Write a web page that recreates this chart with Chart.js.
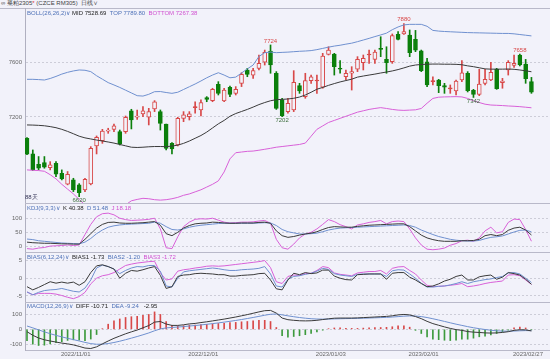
<!DOCTYPE html>
<html><head><meta charset="utf-8">
<script src="https://cdn.jsdelivr.net/npm/chart.js@4"></script>
<style>
html,body{margin:0;padding:0;}
body{background:#f2f2fa;width:550px;height:359px;overflow:hidden;position:relative;font-family:"Liberation Sans",Arial,sans-serif;}
canvas{position:absolute;left:0;}
.t{position:absolute;font-size:6px;line-height:7px;white-space:nowrap;color:#222;}
.ln{position:absolute;height:1px;background:#b9b9c9;}
.b{color:#4f72b8}.m{color:#d050d0}.k{color:#222}.r{color:#d33}
</style></head><body>
<div class="t" style="left:1px;top:0px;color:#444">∞ 菜粕2305<span class="r">*</span> (CZCE RM305) &nbsp;日线∨</div>
<div class="ln" style="left:0;top:8px;width:550px"></div>
<canvas id="cMain" width="550" height="195" style="top:8px"></canvas>
<canvas id="cKdj" width="550" height="49" style="top:203px"></canvas>
<canvas id="cBias" width="550" height="50" style="top:252px"></canvas>
<canvas id="cMacd" width="550" height="57" style="top:302px"></canvas>
<div class="ln" style="left:25px;top:203px;width:525px"></div>
<div class="ln" style="left:25px;top:252px;width:525px"></div>
<div class="ln" style="left:25px;top:302px;width:525px"></div>
<div class="t" style="left:27px;top:10px"><span class="b">BOLL(26,26,2)∨</span> MID 7528.69 &nbsp;<span class="b">TOP 7789.80</span> &nbsp;<span class="m">BOTTOM 7267.38</span></div>
<div class="t" style="left:25px;top:194px;color:#335">88天</div>
<div class="t" style="left:27px;top:205px"><span class="b">KDJ(9,3,3)∨</span> &nbsp;K 40.38 &nbsp;<span class="b">D 51.48</span> &nbsp;<span class="m">J 18.18</span></div>
<div class="t" style="left:27px;top:254px"><span class="b">BIAS(6,12,24)∨</span> &nbsp;BIAS1 -1.73 &nbsp;<span class="b">BIAS2 -1.20</span> &nbsp;<span class="m">BIAS3 -1.72</span></div>
<div class="t" style="left:27px;top:303px"><span class="b">MACD(12,26,9)∨</span> &nbsp;DIFF -10.71 &nbsp;<span class="b">DEA -9.24</span> &nbsp;&nbsp;-2.95</div>
<script>
// ---- data ----
const OPEN = [7045,6931,6856,6868,6832,6863,6790,6711,6742,6706, 6669,6713,6989,7028,7096,7110,7093,7093,7244,7198, 7222,7198,7258,7239,7149,7008,6996,7190,7202,7268, 7251,7341,7319,7438,7316,7416,7372,7445,7542,7505, 7554,7598,7680,7518,7324,7239,7251,7428,7348,7464, 7462,7416,7656,7658,7554,7493,7518,7547,7595,7651, 7619,7700,7619,7602,7801,7804,7796,7765,7682,7602, 7457,7469,7428,7404,7389,7469,7518,7394,7365,7445, 7469,7547,7450,7542,7576,7651,7585,7457];
const HIGH = [7050,6960,6912,6912,6875,6875,6815,6803,6754,6715, 6754,6984,7062,7110,7118,7149,7105,7207,7256,7251, 7275,7263,7319,7251,7149,7013,7198,7239,7239,7311, 7324,7348,7409,7457,7409,7425,7421,7522,7554,7554, 7651,7687,7724,7530,7336,7336,7537,7445,7518,7505, 7505,7663,7711,7663,7610,7542,7566,7639,7651,7687, 7687,7784,7711,7804,7821,7880,7833,7830,7687,7627, 7493,7474,7445,7433,7469,7610,7530,7401,7547,7547, 7598,7554,7481,7610,7651,7658,7619,7488];
const LOW = [6925,6810,6815,6827,6815,6766,6742,6706,6657,6620, 6657,6706,6931,7008,7081,7093,6996,7081,7113,7183, 7202,7142,7239,7105,6960,6931,6989,7166,7178,7227, 7207,7311,7311,7360,7311,7348,7360,7421,7493,7481, 7542,7578,7518,7255,7202,7227,7239,7372,7336,7445, 7372,7409,7651,7505,7518,7469,7396,7530,7542,7590, 7590,7639,7518,7590,7760,7800,7639,7675,7530,7421, 7433,7377,7372,7372,7360,7457,7382,7342,7355,7433, 7464,7401,7409,7505,7561,7571,7445,7372];
const CLOSE = [6929,6815,6827,6834,6851,6783,6749,6783,6669,6650, 6747,6972,7052,7098,7105,7135,7004,7198,7178,7207, 7244,7239,7311,7154,6972,6967,7190,7215,7222,7270, 7304,7328,7401,7372,7396,7365,7401,7510,7510,7537, 7590,7670,7578,7263,7210,7299,7452,7389,7464,7493, 7464,7644,7687,7566,7547,7518,7530,7619,7627,7658, 7673,7692,7595,7792,7765,7821,7668,7687,7537,7433, 7462,7428,7416,7409,7462,7522,7391,7365,7440,7474, 7525,7406,7462,7598,7590,7578,7479,7380];
const BOLL_TOP = [7474,7474,7472,7469,7480,7495,7512,7525,7535,7542, 7540,7530,7500,7475,7450,7433,7415,7395,7375,7355, 7352,7365,7384,7385,7378,7372,7380,7400,7420,7440, 7462,7485,7505,7522,7505,7485,7490,7520,7550,7578, 7640,7668,7672,7668,7670,7672,7675,7678,7680,7683, 7690,7699,7708,7716,7722,7730,7737,7748,7760,7772, 7785,7797,7810,7835,7855,7870,7874,7874,7874,7860, 7830,7825,7822,7820,7818,7816,7814,7813,7812,7811, 7810,7809,7808,7808,7805,7800,7795,7790];
const BOLL_MID = [7142,7141,7139,7136,7130,7122,7110,7095,7078,7060, 7048,7040,7032,7025,7018,7010,7000,6990,6980,6978, 6980,6983,6985,6985,6984,6988,6995,7008,7025,7045, 7065,7090,7120,7150,7175,7205,7225,7240,7255,7272, 7290,7305,7318,7326,7328,7331,7336,7345,7360,7380, 7402,7415,7430,7443,7455,7465,7475,7490,7498,7505, 7512,7520,7527,7535,7545,7557,7570,7578,7582,7584, 7585,7585,7584,7584,7583,7580,7572,7566,7558,7550, 7548,7548,7548,7549,7547,7542,7536,7529];
const BOLL_BOT = [6815,6812,6810,6805,6780,6750,6710,6675,6640,6600, 6560,6545,6535,6530,6530,6535,6545,6560,6590,6600, 6608,6605,6598,6595,6598,6605,6615,6630,6640,6655, 6670,6690,6710,6735,6800,6895,6940,6945,6950,6952, 6958,6965,6972,6980,6985,6990,6995,7000,7010,7060, 7110,7135,7160,7175,7190,7205,7220,7235,7245,7255, 7262,7268,7262,7255,7250,7248,7250,7252,7262,7300, 7335,7344,7346,7347,7348,7346,7335,7318,7305,7293, 7287,7285,7283,7280,7278,7275,7271,7267];
const KDJ_K = [15,13,12,11,11,10,9,9,8,8, 25,45,65,78,85,86,83,82,82,83, 84,86,88,75,45,38,50,65,74,80, 82,83,86,85,83,82,82,83,83,83, 85,86,82,55,38,32,35,40,44,47, 52,60,67,70,69,68,68,71,73,75, 76,77,78,79,80,80,70,55,40,30, 24,20,18,18,18,20,20,21,25,38, 42,38,42,57,65,68,58,40.38];
const KDJ_D = [26,24,20,18,16,14,12,11,10,9, 15,28,45,58,68,73,76,78,79,80, 81,82,86,82,70,60,58,62,68,72, 75,77,79,81,82,82,82,82,82,82, 83,84,83,74,60,52,48,44,44,45, 47,52,58,62,65,66,67,68,69,70, 71,72,73,74,75,76,74,68,58,50, 42,35,30,25,22,20,19,19,21,27, 32,34,37,44,51,57,58,51.48];
const KDJ_J = [-8,-10,-6,-4,1,2,3,5,3,5, 42,78,105,116,118,112,100,95,92,93, 94,96,100,62,-5,-8,34,70,86,96, 98,97,100,93,86,83,84,86,86,87, 90,92,82,25,-5,-10,8,30,44,50, 62,78,95,88,77,70,62,76,80,85, 88,92,80,88,90,88,62,30,5,-10, -12,-10,-6,4,10,20,22,18,30,55, 68,48,52,85,97,95,60,18.18];
const BIAS1 = [-2.4,-3.3,-2.6,-1.8,-1.0,-1.4,-1.1,-1.4,-1.1,-2.0, -1.0,1.6,3.5,3.8,3.3,2.6,0.0,1.4,2.2,2.0, 2.4,2.9,3.3,0.8,-2.9,-2.4,0.5,0.9,1.0,1.3, 1.4,1.3,1.2,1.0,1.0,0.6,0.6,0.8,0.9,1.0, 1.3,1.4,-0.5,-3.0,-3.3,-0.5,1.4,1.0,1.6,1.3, 1.5,2.3,2.3,0.6,0.0,-0.4,-0.5,1.0,1.1,1.2, 1.2,1.2,-0.3,1.4,1.6,1.6,0.3,-0.5,-1.5,-2.4, -2.2,-1.6,-0.8,-0.3,0.5,0.9,-0.5,-0.5,0.4,0.7, 0.9,-0.3,0.3,1.6,1.3,0.9,-0.3,-1.73];
const BIAS2 = [-3.9,-4.7,-4.0,-3.5,-3.3,-3.2,-2.9,-3.3,-3.7,-3.9, -2.8,-0.5,2.9,3.7,3.3,2.6,1.3,2.2,2.9,3.3, 3.2,3.6,3.6,2.0,-2.2,-2.5,0.0,1.8,2.1,2.3, 2.5,2.7,2.9,2.7,2.4,2.2,2.2,2.4,2.5,2.6, 2.8,3.3,1.2,-2.2,-2.5,-0.3,0.5,0.7,1.1,1.4, 2.0,2.8,2.5,1.3,0.9,0.7,0.5,1.1,1.2,1.2, 1.2,1.2,0.5,2.1,2.4,2.3,1.2,0.0,-1.4,-2.5, -2.5,-2.3,-2.2,-1.9,-1.5,-1.0,-1.5,-1.0,-0.7,-0.4, -0.2,0.2,0.5,1.5,1.6,1.2,0.0,-1.20];
const BIAS3 = [-3.9,-4.7,-4.3,-4.3,-4.3,-4.5,-4.9,-5.4,-5.8,-5.2, -4.0,-1.6,0.0,0.7,1.0,1.6,2.6,3.6,4.0,4.3, 4.5,4.7,4.8,1.5,-0.5,-0.2,2.0,2.4,2.6,2.9, 3.1,3.4,3.5,3.4,3.5,3.7,3.9,4.1,4.3,4.5, 4.7,5.0,3.0,-1.0,-1.5,0.5,0.9,0.8,1.3,1.4, 2.2,3.3,3.0,1.5,1.1,0.9,0.7,1.5,1.7,1.9, 1.9,2.2,1.2,2.8,3.2,3.3,2.2,1.2,-0.5,-2.0, -2.4,-2.3,-2.2,-2.0,-1.8,-1.5,-2.4,-2.2,-1.9,-1.5, -1.2,-1.0,-0.8,0.9,1.0,0.7,-0.5,-1.72];
const DIFF = [-16,-40,-58,-70,-78,-85,-92,-97,-104,-114, -125,-128,-117,-97,-78,-60,-45,-30,-17,-5, 10,25,48,52,35,26,26,30,36,39, 45,50,56,62,68,75,82,90,98,107, 116,124,126,108,75,64,60,57,56,57, 60,65,70,74,75,75,75,76,78,80, 82,84,86,90,96,99,96,85,71,53, 38,27,16,6,-2,-7,-15,-19,-21,-24, -25,-24,-21,-16,-7,-3,-4,-10.71];
const DEA = [22,9.6,-3.9,-17.1,-29.3,-40.4,-50.7,-60,-68.8,-77.8, -87.2,-95.4,-99.7,-99.2,-95,-88,-79.4,-69.5,-59,-48.2, -36.6,-24.3,-9.8,2.6,9.1,12.5,15.2,18.2,21.8,25.2, 29.2,33.4,37.9,42.7,47.8,53.2,59,65.2,71.8,78.8, 86.2,93.8,100.2,101.8,96.4,89.9,83.9,78.5,74,70.6, 68.5,67.8,68.2,69.4,70.5,71.4,72.1,72.9,73.9,75.1, 76.5,78,79.6,81.7,84.6,87.5,89.2,88.4,84.9,78.5, 70.4,61.7,52.6,43.3,34.2,26,17.8,10.4,4.1,-1.5, -6.2,-9.8,-12,-12.8,-11.6,-9.9,-8.7,-9.24];
const MACD_HIST = [-76,-99,-108,-106,-97,-89,-83,-74,-70,-72, -76,-65,-35,4,34,56,69,79,84,86, 93,99,116,99,52,27,22,24,28,28, 32,33,36,39,40,44,46,50,52,56, 60,60,52,12,-43,-52,-48,-43,-36,-27, -17,-6,4,9,9,7,6,6,8,10, 11,12,13,17,23,23,14,-7,-28,-51, -65,-69,-73,-75,-72,-66,-66,-59,-50,-45, -38,-28,-18,-6,9,14,9,-2.95];
const TICK_IDX = [9,31,53,69,87];
const TICK_LABELS = ['2022/11/01','2022/12/01','2023/01/03','2023/02/01','2023/02/27'];
const MARK_IDX = [42,44,65,77,85,9];
const MARK_VAL = [7724,7202,7880,7342,7658,6620];
const MARK_HIGH = [true,false,true,false,true,false];
const PRICE_TICKS = [7200,7600];
const KDJ_TICKS = [0,20,50,80,100];
const BIAS_TICKS = [-5,0,5];
const MACD_TICKS = [-100,0,100];

// ---- styles ----
const BG = '#f2f2fa', RED = '#d84848', GREEN = '#0b7f0b', HGREEN = '#3d9a3d';
const C_DARK = '#3a3a3a', C_BLUE = '#6f90cf', C_MAG = '#d860d8';
Chart.defaults.font.family = '"Liberation Sans", Arial, sans-serif';
Chart.defaults.font.size = 6;
Chart.defaults.animation = false;

const xs = (show) => ({
  type: 'linear', min: -0.345, max: 90.2, offset: false, display: show,
  grid: {display: false, drawTicks: false},
  border: {display: show, color: '#b9b9c9'},
  ticks: {autoSkip: false, maxRotation: 0, color: '#666', padding: 1, font: {size: 6},
          callback: (v, i) => TICK_LABELS[i]},
  afterBuildTicks: s => { s.ticks = TICK_IDX.map(i => ({value: i - 0.6})); },
  afterFit: s => { s.height = show ? 9 : 0; s.paddingLeft = 0; s.paddingRight = 0; }
});
const ys = (min, max, tv) => ({
  min, max,
  afterBuildTicks: s => { s.ticks = tv.map(v => ({value: v})); },
  afterFit: s => { s.width = 25; s.paddingTop = 0; s.paddingBottom = 0; },
  ticks: {color: '#666', padding: 3, font: {size: 6}, callback: v => String(v)},
  grid: {color: '#cdcdd8', drawTicks: false},
  border: {display: true, color: '#b0b0c0', dash: [2, 2]}
});
const line = (arr, color, order) => ({
  type: 'line', data: arr.map((v, i) => ({x: i, y: v})), borderColor: color,
  borderWidth: 1, pointRadius: 0, tension: 0, order
});
const baseOpts = (xShow, y) => ({
  responsive: false, maintainAspectRatio: false, animation: false,
  layout: {padding: 0},
  plugins: {legend: {display: false}, tooltip: {enabled: false}},
  scales: {x: xs(xShow), y}
});

// ---- main candles + BOLL ----
const isUp = i => CLOSE[i] >= OPEN[i];
const tiny = i => Math.abs(CLOSE[i] - OPEN[i]) < 8;
const marks = {
  id: 'marks',
  afterDatasetsDraw(chart) {
    const {ctx, scales: {x, y}} = chart;
    ctx.save();
    ctx.font = '6px "Liberation Sans", Arial, sans-serif';
    ctx.textAlign = 'center';
    MARK_IDX.forEach((k, i) => {
      const px = x.getPixelForValue(k), py = y.getPixelForValue(MARK_VAL[i]);
      const hi = MARK_HIGH[i];
      ctx.fillStyle = hi ? RED : '#3f6f3f';
      ctx.textBaseline = hi ? 'bottom' : 'top';
      ctx.fillText(String(MARK_VAL[i]), px, hi ? py - 1 : py + 1);
    });
    ctx.restore();
  }
};
new Chart(document.getElementById('cMain'), {
  type: 'bar',
  data: {datasets: [
    line(BOLL_TOP, C_BLUE, 1), line(BOLL_MID, C_DARK, 1), line(BOLL_BOT, C_MAG, 1),
    {type: 'bar', grouped: false, order: 4, barThickness: 4, minBarLength: 1,
     data: OPEN.map((o, i) => ({x: i, y: [o, CLOSE[i]]})),
     backgroundColor: OPEN.map((o, i) => isUp(i) ? (tiny(i) ? RED : BG) : GREEN),
     borderColor: OPEN.map((o, i) => isUp(i) ? RED : GREEN),
     borderWidth: 1, borderSkipped: false},
    {type: 'bar', grouped: false, order: 5, barThickness: 1,
     data: LOW.map((l, i) => ({x: i, y: [l, HIGH[i]]})),
     backgroundColor: OPEN.map((o, i) => isUp(i) ? RED : GREEN)}
  ]},
  options: baseOpts(false, ys(6574, 7993, PRICE_TICKS)),
  plugins: [marks]
});

// ---- KDJ ----
new Chart(document.getElementById('cKdj'), {
  type: 'line',
  data: {datasets: [line(KDJ_K, C_DARK, 1), line(KDJ_D, C_BLUE, 2), line(KDJ_J, C_MAG, 3)]},
  options: baseOpts(false, ys(-20, 154, KDJ_TICKS))
});

// ---- BIAS ----
new Chart(document.getElementById('cBias'), {
  type: 'line',
  data: {datasets: [line(BIAS1, C_DARK, 1), line(BIAS2, C_BLUE, 2), line(BIAS3, C_MAG, 3)]},
  options: baseOpts(false, ys(-6.74, 7.43, BIAS_TICKS))
});

// ---- MACD ----
new Chart(document.getElementById('cMacd'), {
  type: 'bar',
  data: {datasets: [
    line(DIFF, C_DARK, 1), line(DEA, C_BLUE, 2),
    {type: 'bar', grouped: false, order: 3, barThickness: 1,
     data: MACD_HIST.map((v, i) => ({x: i, y: v})),
     backgroundColor: MACD_HIST.map(v => v >= 0 ? RED : HGREEN)}
  ]},
  options: baseOpts(true, ys(-138, 182, MACD_TICKS))
});
</script>
</body></html>
